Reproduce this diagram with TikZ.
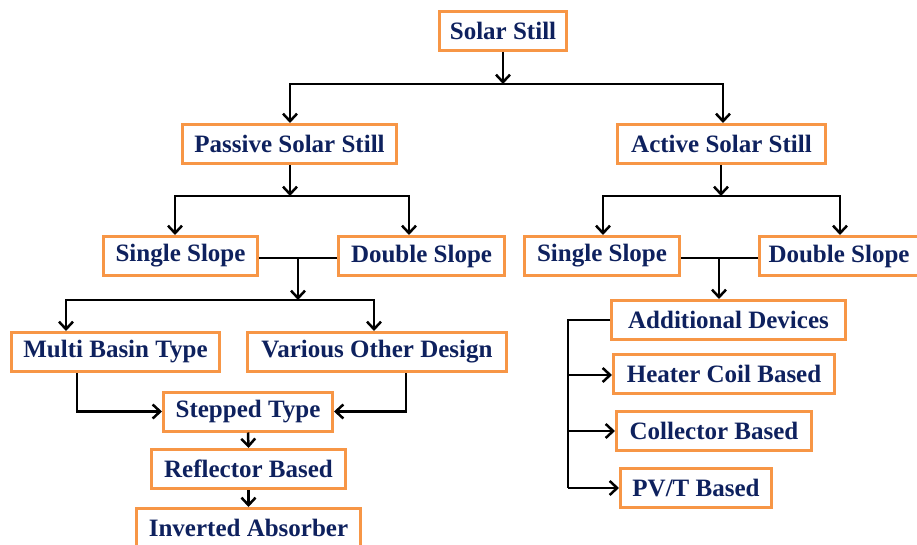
\documentclass[tikz,border=0pt]{standalone}
\usepackage{fontspec}
\setmainfont{Liberation Serif}
\usetikzlibrary{arrows.meta}
\definecolor{boxorange}{HTML}{F79646}
\definecolor{navytext}{HTML}{0E215E}
\tikzset{
  box/.style={draw=boxorange, line width=3pt, fill=white, inner sep=0pt,
    font=\fontsize{25}{28}\selectfont\bfseries, text=navytext, minimum height=39pt},
  conn/.style={line width=2.5pt, black},
  arr/.style={conn, -{Straight Barb[length=7.5pt,width=14pt,line width=2.5pt]}}
}
\begin{document}
\begin{tikzpicture}[x=1pt,y=-1pt]
\useasboundingbox (0,0) rectangle (917,545);
\clip (0,0) rectangle (917,545);
\fill[white] (0,0) rectangle (917,545);
% nodes
\node[box, minimum width=127pt] (ss) at (503,31) {Solar Still};
\node[box, minimum width=214pt] (pass) at (289.5,144) {Passive Solar Still};
\node[box, minimum width=208pt] (act) at (721.5,144) {Active Solar Still};
\node[box, minimum width=154pt] (pss) at (180.5,256) {Single Slope};
\node[box, minimum width=166pt] (pds) at (421.5,256) {Double Slope};
\node[box, minimum width=155pt] (ass) at (602,256) {Single Slope};
\node[box, minimum width=160pt] (ads) at (839,256) {Double Slope};
\node[box, minimum width=208pt] (mb) at (115.5,352) {Multi Basin Type};
\node[box, minimum width=259pt] (vo) at (377,352) {Various Other Design};
\node[box, minimum width=169pt] (st) at (248,411.5) {Stepped Type};
\node[box, minimum width=194pt] (rb) at (248.5,469) {Reflector Based};
\node[box, minimum width=224pt] (ia) at (248.5,528) {Inverted Absorber};
\node[box, minimum width=234pt] (ad) at (728.5,320) {Additional Devices};
\node[box, minimum width=221pt] (hc) at (724,374) {Heater Coil Based};
\node[box, minimum width=195pt] (cb) at (714,431) {Collector Based};
\node[box, minimum width=151pt] (pv) at (696,488) {PV/T Based};
% junction coordinates
\coordinate (j1) at (503,84);
\coordinate (j2) at (290,196);
\coordinate (j3) at (721,196);
\coordinate (j4) at (298,258);
\coordinate (j5) at (298,300);
\coordinate (j6) at (719,258);
\coordinate (j7) at (568,320);
% top level
\draw[arr] (ss.south) -- (j1);
\draw[arr] (j1) -- (290,84) -- (pass.north -| 290,0);
\draw[arr] (j1) -- (723,84) -- (act.north -| 723,0);
% passive
\draw[arr] (pass.south -| j2) -- (j2);
\draw[arr] (j2) -- (175,196) -- (pss.north -| 175,0);
\draw[arr] (j2) -- (409,196) -- (pds.north -| 409,0);
\draw[conn] (pss.east |- j4) -- (pds.west |- j4);
\draw[arr] (j4) -- (j5);
\draw[arr] (j5) -- (66,300) -- (mb.north -| 66,0);
\draw[arr] (j5) -- (374,300) -- (vo.north -| 374,0);
\draw[arr] (mb.south -| 77,0) -- (77,411.5) -- (st.west);
\draw[arr] (vo.south -| 406,0) -- (406,411.5) -- (st.east);
\draw[arr] (st.south) -- (rb.north);
\draw[arr] (rb.south) -- (ia.north);
% active
\draw[arr] (act.south -| j3) -- (j3);
\draw[arr] (j3) -- (603,196) -- (ass.north -| 603,0);
\draw[arr] (j3) -- (840,196) -- (ads.north -| 840,0);
\draw[conn] (ass.east |- j6) -- (ads.west |- j6);
\draw[arr] (j6) -- (ad.north -| j6);
\draw[conn] (ad.west) -- (j7) -- (568,488);
\draw[arr] (568,375) -- (hc.west |- 0,375);
\draw[arr] (568,431) -- (cb.west);
\draw[arr] (568,488) -- (pv.west);
\end{tikzpicture}
\end{document}
